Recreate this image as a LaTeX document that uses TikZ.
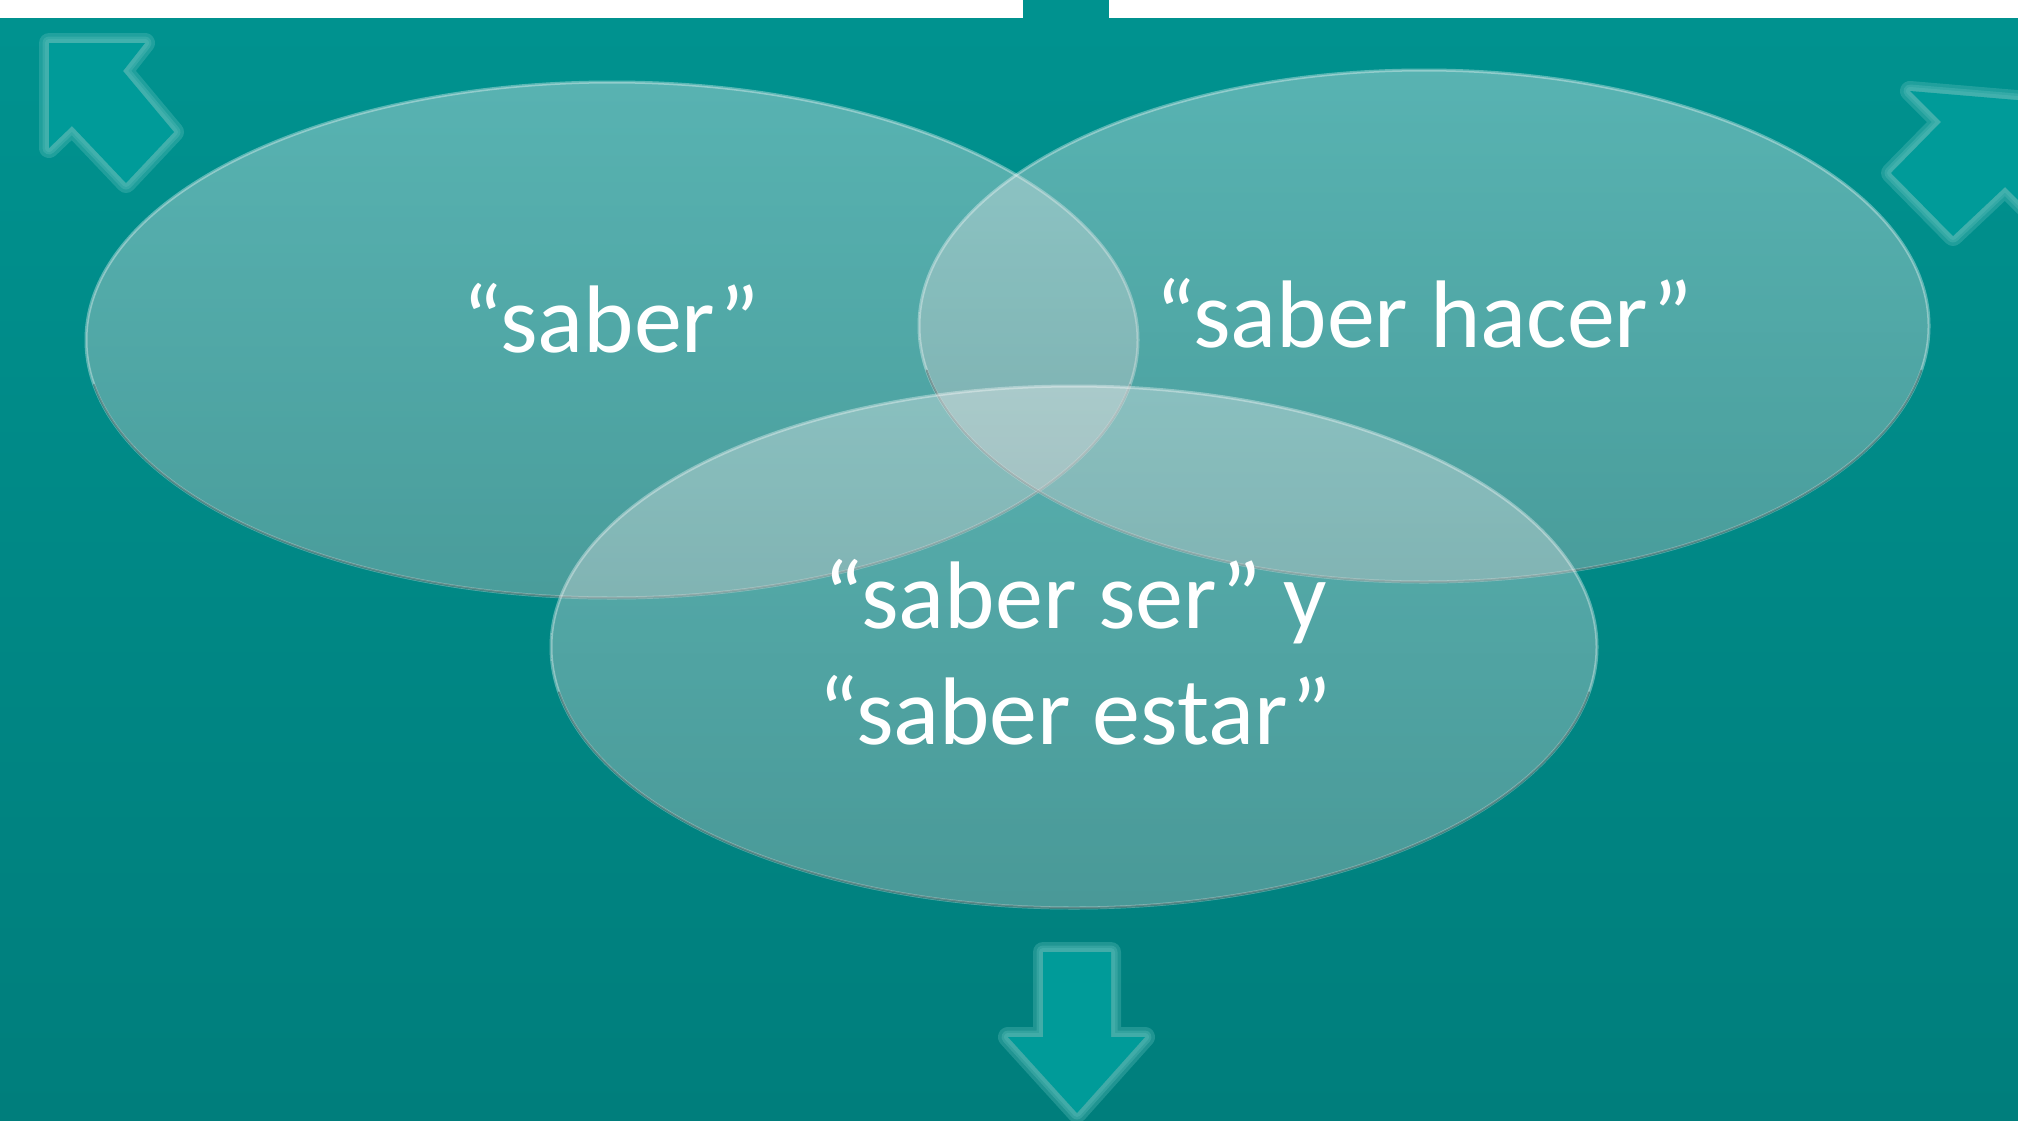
\documentclass[tikz,border=0pt]{standalone}
\usepackage{fontspec}
\setmainfont{Carlito}
\usetikzlibrary{shapes.geometric,positioning}
\definecolor{bgtop}{RGB}{0,146,143}
\definecolor{bgbot}{RGB}{0,126,124}
\definecolor{arrowfill}{RGB}{0,155,153}
\definecolor{arrowglow}{RGB}{92,190,186}
\definecolor{vennhi}{RGB}{240,238,240}
\definecolor{vennlo}{RGB}{200,194,194}
\tikzset{
	venn/.style={ellipse, inner sep=0pt, top color=vennhi, bottom color=vennlo, fill opacity=0.37, draw=white, draw opacity=0.35, line width=3pt},
	rimdark/.style={draw=black, draw opacity=0.25, line width=2pt, line cap=round},
	venntext/.style={text=white, font=\fontsize{96}{116}\selectfont, align=center, anchor=base},
	glow/.style={draw=arrowglow, draw opacity=0.35, line join=round},
	bigarrow/.style={fill=arrowfill},
}
\newcommand{\glowarrow}[1]{%
	\foreach \w in {20,13,8} {\draw[glow, line width=\w pt] #1;}
	\fill[bigarrow] #1;}

\begin{document}
\begin{tikzpicture}[x=1pt,y=1pt,yscale=-1]
	\useasboundingbox (0,0) rectangle (2018,1120);
	\clip (0,0) rectangle (2018,1120);
	
	%Shape: Background
	\shade[top color=bgtop, bottom color=bgbot] (0,18) rectangle (2018,1120);
	\fill[white] (0,0) rectangle (2018,18);
	\fill[bgtop] (1023,0) rectangle (1109,18);
	
	%Shape: Arrows
	\glowarrow{(49,43) -- (145,43) -- (123,71) -- (174,132) -- (126,183) -- (72,126) -- (49,148) -- cycle}
	\glowarrow{(1910,91) -- (2040,102) -- (2030,212) -- (2005,187) -- (1953,236) -- (1891,173) -- (1941,122) -- cycle}
	\glowarrow{(1043,952) -- (1111,952) -- (1111,1037) -- (1145,1037) -- (1077,1113) -- (1008,1037) -- (1043,1037) -- cycle}
	
	%Shape: Ellipses
	\foreach \n/\cx/\cy/\rx/\ry in {saber/612/340/526/258, hacer/1424/326/505/256, ser/1074/647/523/261} {
		\node[venn, minimum width=2*\rx pt, minimum height=2*\ry pt] (\n) at (\cx,\cy) {};
		\draw[rimdark] ([shift={(10:\rx pt and \ry pt)}]\n.center) arc[start angle=10, end angle=170, x radius=\rx, y radius=\ry];
	}
	
	% Text Node
	\node[venntext] (tsaber) at (611,352) {“saber”};
	% Text Node
	\node[venntext] (thacer) at (1424,347) {“saber hacer”};
	% Text Node
	\node[venntext] (tser) at (1075,744) {“saber ser” y\\“saber estar”};
\end{tikzpicture}
\end{document}
